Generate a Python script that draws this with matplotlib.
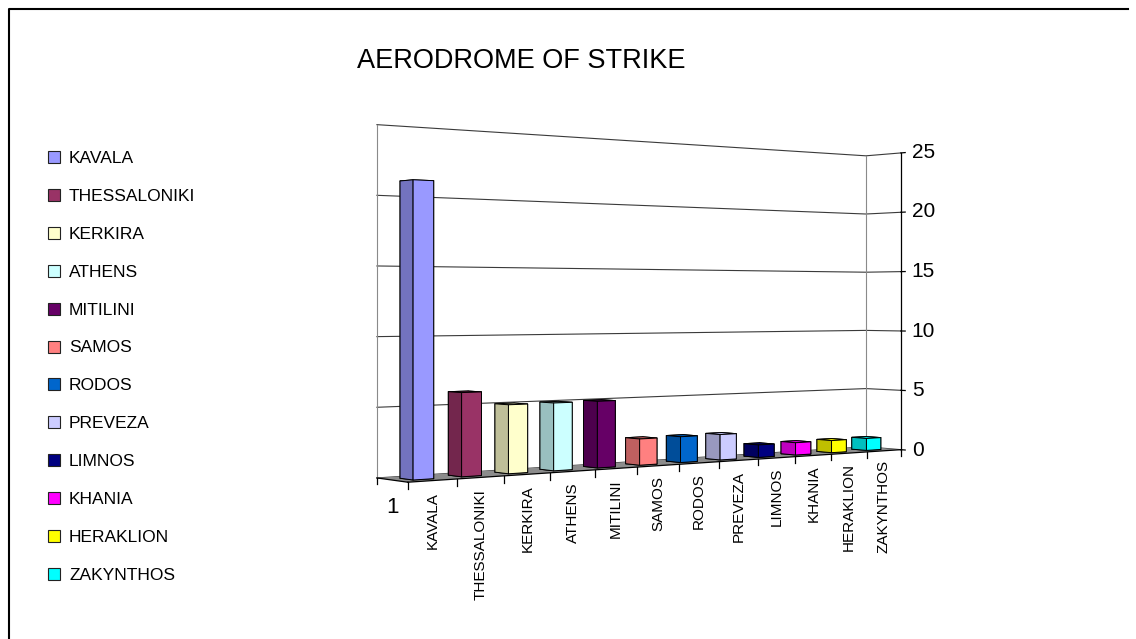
import numpy as np
import matplotlib
matplotlib.use('Agg')
import matplotlib.pyplot as plt
from matplotlib.colors import to_rgb
from matplotlib.patches import Rectangle
from matplotlib.lines import Line2D
from mpl_toolkits.mplot3d import proj3d
from mpl_toolkits.mplot3d.art3d import Poly3DCollection

# strikes per aerodrome (one category, one series per aerodrome)
aerodromes = ['KAVALA', 'THESSALONIKI', 'KERKIRA', 'ATHENS', 'MITILINI', 'SAMOS',
              'RODOS', 'PREVEZA', 'LIMNOS', 'KHANIA', 'HERAKLION', 'ZAKYNTHOS']
strikes = [21, 6, 5, 5, 5, 2, 2, 2, 1, 1, 1, 1]
category = '1'
value_ticks = [0, 5, 10, 15, 20, 25]
bar_colors = ['#9999FF', '#993366', '#FFFFCC', '#CCFFFF', '#660066', '#FF8080',
              '#0066CC', '#CCCCFF', '#000080', '#FF00FF', '#FFFF00', '#00FFFF']

W, H = 1136, 639
fig = plt.figure(figsize=(W / 100, H / 100), dpi=100)

# square 3d panel, camera close and to the front-left so the series recede to the right
side = 681
ax = fig.add_axes([312 / W, -12 / H, side / W, side / H], projection='3d',
                  computed_zorder=False)
ax.set_axis_off()
ax.patch.set_visible(False)
ax.set_proj_type('persp', focal_length=0.5355)
ax.view_init(elev=0, azim=-128.4)
ax.set_box_aspect((48.1, 4.2, 25))

n = len(aerodromes)
top = value_ticks[-1]

# back wall + right side wall, then the grey floor
back_wall = [(0, 1, 0), (n, 1, 0), (n, 1, top), (0, 1, top)]
side_wall = [(n, 1, 0), (n, 0, 0), (n, 0, top), (n, 1, top)]
ax.add_collection3d(Poly3DCollection([back_wall, side_wall], facecolor='white',
                                     edgecolor='none', zorder=1))
floor = [(0, 0, 0), (n, 0, 0), (n, 1, 0), (0, 1, 0)]
ax.add_collection3d(Poly3DCollection([floor], facecolor='#8c8c8c',
                                     edgecolor='none', zorder=2))

# gridlines on both walls
for v in value_ticks:
    ax.plot([0, n, n], [1, 1, 0], [v, v, v], color='#3a3a3a', lw=0.8, zorder=1.5)
ax.plot([0, 0], [1, 1], [0, top], color='#8a8a8a', lw=0.8, zorder=1.6)
ax.plot([n, n], [1, 1], [0, top], color='#8a8a8a', lw=0.8, zorder=1.6)

# value axis on the front right corner
ax.plot([n, n], [0, 0], [0, top], color='black', lw=0.9, zorder=3)
for v in value_ticks:
    ax.plot([n, n], [0, -0.12], [v, v], color='black', lw=0.9, zorder=3)

# series axis along the front edge of the floor, category axis on the left edge
ax.plot([0, n], [0, 0], [0, 0], color='black', lw=0.9, zorder=3)
ax.plot([0, 0], [0, 1], [0, 0], color='black', lw=0.9, zorder=3)
for i in range(n + 1):
    ax.plot([i, i], [0, 0], [0, -0.5], color='black', lw=0.9, zorder=3)
ax.plot([0, 0], [1, 1], [0, -0.4], color='black', lw=0.9, zorder=3)

# bars: face order bottom, top, front, back, left, right
bw = 0.42
faces = []
for c in bar_colors:
    r = np.array(to_rgb(c))
    faces += [r * 0.6, r * 0.9, r, r * 0.6, r * 0.75, r * 0.6]
ax.bar3d(np.arange(n) + (1 - bw) / 2, np.full(n, (1 - bw) / 2), np.zeros(n),
         bw, bw, strikes, color=faces, shade=False, edgecolor='black',
         linewidth=0.7, zorder=4)

ax.set_xlim(0, n)
ax.set_ylim(0, 1)
ax.set_zlim(0, top)

# axis labels: project the 3d anchor points, then place flat text there
M = ax.get_proj()


def flat_pos(x, y, z):
    px, py, _ = proj3d.proj_transform(x, y, z, M)
    return float(px), float(py)


for v in value_ticks:
    px, py = flat_pos(n, -0.3, v)
    ax.text2D(px, py, str(v), transform=ax.transData, ha='left', va='center',
              fontsize=15, family='Liberation Sans', zorder=5)

for i, name in enumerate(aerodromes):
    px, py = flat_pos(i + 0.5, 0, -0.8)
    ax.text2D(px, py, name, transform=ax.transData, rotation=90,
              ha='center', va='top', fontsize=11, family='Liberation Sans', zorder=5)

px, py = flat_pos(0, 0.5, -1.9)
ax.text2D(px, py, category, transform=ax.transData, ha='center', va='center',
          fontsize=16, family='Liberation Sans', zorder=5)

# title
fig.text(521 / W, 1 - 68 / H, 'AERODROME OF STRIKE', ha='center', va='baseline',
         fontsize=19.5, family='Liberation Sans')

# legend down the left side
for k, (name, c) in enumerate(zip(aerodromes, bar_colors)):
    base = 163 + 37.9 * k
    fig.add_artist(Rectangle((48 / W, 1 - base / H), 12 / W, 12 / H,
                             transform=fig.transFigure, facecolor=c,
                             edgecolor='#222222', lw=0.8))
    fig.text(69 / W, 1 - base / H, name, ha='left', va='baseline',
             fontsize=12.5, family='Liberation Sans')

# chart area border
fig.add_artist(Line2D([8.5 / W, 8.5 / W, 1128 / W], [0, 1 - 8.5 / H, 1 - 8.5 / H],
                      transform=fig.transFigure, color='black', lw=1.5))

fig.savefig('out.png', dpi=100)
